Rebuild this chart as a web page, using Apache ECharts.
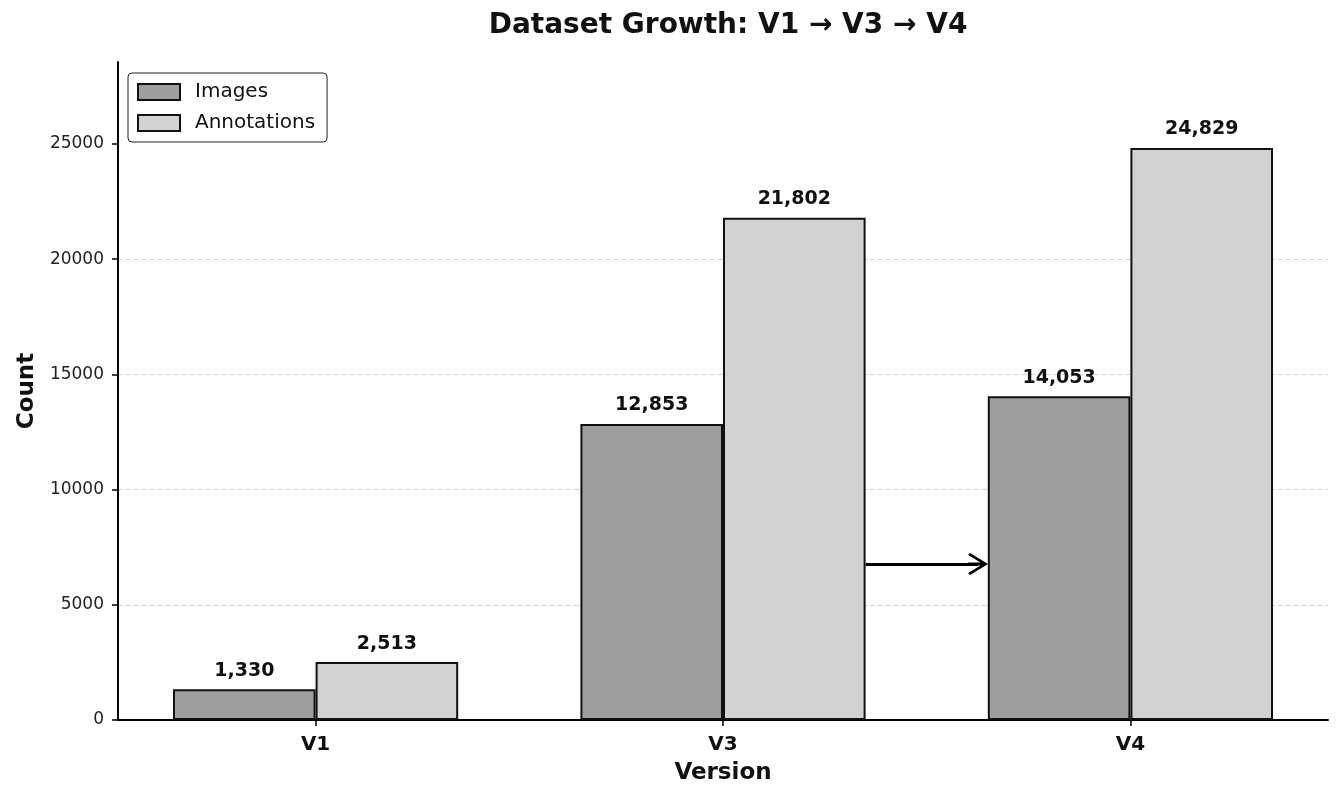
<!DOCTYPE html>
<html lang="en">
<head>
    <meta charset="UTF-8">
    <script src="https://cdn.jsdelivr.net/npm/echarts@6/dist/echarts.min.js"></script>
    <title>Dataset Growth</title>
</head>
<body>
<style>
    html, body, #main {
        width: 100%;
        height: 100%;
        margin: 0;
        background: #fff;
    }
</style>
<div id='main'></div>
<script>
    var versions = ['V1', 'V3', 'V4'];
    var images = [1330, 12853, 14053];
    var annotations = [2513, 21802, 24829];
    var yTicks = [0, 5000, 10000, 15000, 20000, 25000];
    // arrow between V3 and V4 groups (x in category index units)
    var arrowFrom = [1.35, 6770];
    var arrowTo = [1.626, 6770];

    var font = 'DejaVu Sans';
    var xIdx = versions.map(function (v, i) { return i; });

    function pairs(vals) {
        return vals.map(function (v, i) { return [i, v]; });
    }

    var labelOpt = {
        show: true,
        position: 'top',
        distance: 9,
        fontFamily: font,
        fontSize: 19,
        fontWeight: 'bold',
        color: '#111',
        formatter: function (p) { return p.value[1].toLocaleString('en-US'); }
    };

    var arrowHead = 'path://M11,0 L22,18 L20,20 L11,5 L2,20 L0,18 Z M9.5,4 L12.5,4 L12.5,20 L9.5,20 Z';

    var chart = echarts.init(document.getElementById('main'));
    var option = {
        animation: false,
        backgroundColor: '#fff',
        title: {
            text: 'Dataset Growth: V1 \u2192 V3 \u2192 V4',
            left: 723,
            top: 7,
            textAlign: 'center',
            textStyle: {fontFamily: font, fontSize: 28, fontWeight: 'bold', color: '#111'}
        },
        legend: {
            orient: 'vertical',
            left: 128,
            top: 73,
            padding: [8, 12, 8, 9],
            itemGap: 9,
            itemWidth: 42,
            itemHeight: 16,
            icon: 'rect',
            borderColor: '#222',
            borderWidth: 1,
            borderRadius: 4,
            backgroundColor: '#fff',
            textStyle: {fontFamily: font, fontSize: 20, color: '#111', lineHeight: 22, padding: [0, 0, 0, 10]},
            data: ['Images', 'Annotations']
        },
        grid: {left: 118, right: 14, top: 62, bottom: 80},
        xAxis: {
            type: 'value',
            min: -0.485,
            max: 2.485,
            name: 'Version',
            nameLocation: 'middle',
            nameGap: 42,
            nameTextStyle: {fontFamily: font, fontSize: 23, fontWeight: 'bold', color: '#111'},
            axisLine: {onZero: false, lineStyle: {color: '#000', width: 2}},
            axisTick: {show: true, length: 6, lineStyle: {color: '#000', width: 1.5}, customValues: xIdx},
            axisLabel: {
                customValues: xIdx,
                margin: 15,
                fontFamily: font, fontSize: 20, fontWeight: 'bold', color: '#111',
                formatter: function (v) { return versions[Math.round(v)]; }
            },
            splitLine: {show: false}
        },
        yAxis: {
            type: 'value',
            min: 0,
            max: 28560,
            interval: 5000,
            name: 'Count',
            nameLocation: 'middle',
            nameGap: 77,
            nameTextStyle: {fontFamily: font, fontSize: 23, fontWeight: 'bold', color: '#111'},
            axisLine: {show: true, onZero: false, lineStyle: {color: '#000', width: 2}},
            axisTick: {show: true, length: 6, lineStyle: {color: '#000', width: 1.5}, customValues: yTicks},
            axisLabel: {
                customValues: yTicks,
                margin: 14,
                fontFamily: font, fontSize: 17, color: '#222',
                formatter: function (v) { return String(v); }
            },
            splitLine: {
                show: true,
                showMinLine: false,
                showMaxLine: false,
                lineStyle: {color: '#d4d4d4', type: [5, 3], width: 1}
            }
        },
        series: [
            {
                name: 'Images',
                type: 'bar',
                barWidth: '35%',
                barGap: '0%',
                data: pairs(images),
                itemStyle: {color: '#9e9e9e', borderColor: '#111', borderWidth: 2},
                label: labelOpt
            },
            {
                name: 'Annotations',
                type: 'bar',
                barWidth: '35%',
                barGap: '0%',
                data: pairs(annotations),
                itemStyle: {color: '#d2d2d2', borderColor: '#111', borderWidth: 2},
                label: labelOpt
            },
            {
                name: 'arrow',
                type: 'line',
                data: [],
                silent: true,
                markLine: {
                    silent: true,
                    symbol: ['none', arrowHead],
                    symbolSize: [22, 20],
                    label: {show: false},
                    lineStyle: {color: '#000', width: 3, type: 'solid'},
                    data: [[{coord: arrowFrom}, {coord: arrowTo}]]
                }
            }
        ]
    };
    chart.setOption(option);
    window.onresize = chart.resize;
</script>
</body>
</html>
